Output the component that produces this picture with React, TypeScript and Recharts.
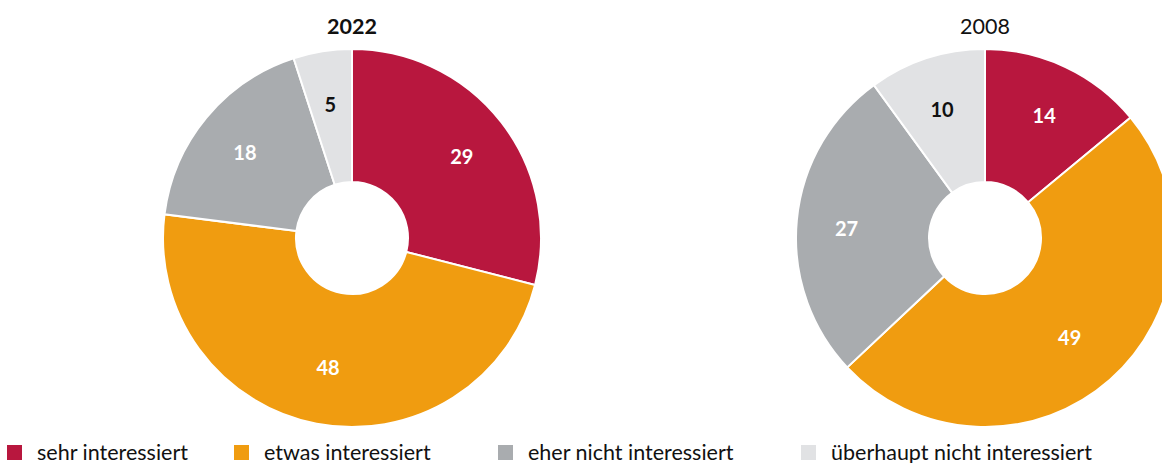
import React from "react";
import { PieChart, Pie, Cell } from "recharts";

const categories = [
  "sehr interessiert",
  "etwas interessiert",
  "eher nicht interessiert",
  "überhaupt nicht interessiert",
];
const values2022 = [29, 48, 18, 5];
const values2008 = [14, 49, 27, 10];
const colors = ["#B8173E", "#F09C10", "#A9ACAF", "#E1E2E4"];
const labelColors = ["#ffffff", "#ffffff", "#ffffff", "#111111"];

const data2022 = categories.map((name, i) => ({ name, value: values2022[i] }));
const data2008 = categories.map((name, i) => ({ name, value: values2008[i] }));

const RADIAN = Math.PI / 180;
const FONT = "Lato, 'Noto Sans', sans-serif";

function renderLabel(props: any) {
  const { cx, cy, midAngle, index, value, percent } = props;
  // bigger slices sit a bit closer to the hole in the original
  const r = percent > 0.4 ? 128 : 139;
  const x = cx + r * Math.cos(-midAngle * RADIAN);
  const y = cy + r * Math.sin(-midAngle * RADIAN) + 3;
  return (
    <text
      x={x}
      y={y}
      fill={labelColors[index]}
      textAnchor="middle"
      dominantBaseline="central"
      fontFamily={FONT}
      fontWeight={700}
      fontSize={20}
    >
      {value}
    </text>
  );
}

const legendX = [7, 234, 498, 801];

export default function App() {
  return (
    <div style={{ position: "absolute", left: 0, top: 0, width: 1162, height: 463, fontFamily: FONT }}>
      <PieChart width={1162} height={463} margin={{ top: 0, right: 0, bottom: 0, left: 0 }}>
        <Pie
          data={data2022}
          dataKey="value"
          cx={352}
          cy={238}
          innerRadius={56}
          outerRadius={189}
          startAngle={90}
          endAngle={-270}
          stroke="#ffffff"
          strokeWidth={2}
          label={renderLabel}
          labelLine={false}
          isAnimationActive={false}
        >
          {data2022.map((d, i) => (
            <Cell key={d.name} fill={colors[i]} />
          ))}
        </Pie>
        <Pie
          data={data2008}
          dataKey="value"
          cx={985}
          cy={238}
          innerRadius={56}
          outerRadius={189}
          startAngle={90}
          endAngle={-270}
          stroke="#ffffff"
          strokeWidth={2}
          label={renderLabel}
          labelLine={false}
          isAnimationActive={false}
        >
          {data2008.map((d, i) => (
            <Cell key={d.name} fill={colors[i]} />
          ))}
        </Pie>
      </PieChart>
      <div style={{ position: "absolute", left: 302, top: 13, width: 100, textAlign: "center", fontSize: 21.5, fontWeight: 700, color: "#111" }}>
        2022
      </div>
      <div style={{ position: "absolute", left: 935, top: 13, width: 100, textAlign: "center", fontSize: 21.5, fontWeight: 400, color: "#111" }}>
        2008
      </div>
      {categories.map((c, i) => (
        <div
          key={c}
          style={{ position: "absolute", left: legendX[i], top: 439, display: "flex", alignItems: "center", fontSize: 21.5, color: "#111", whiteSpace: "nowrap" }}
        >
          <span style={{ display: "inline-block", width: 15, height: 15, background: colors[i], marginRight: 15 }} />
          {c}
        </div>
      ))}
    </div>
  );
}
